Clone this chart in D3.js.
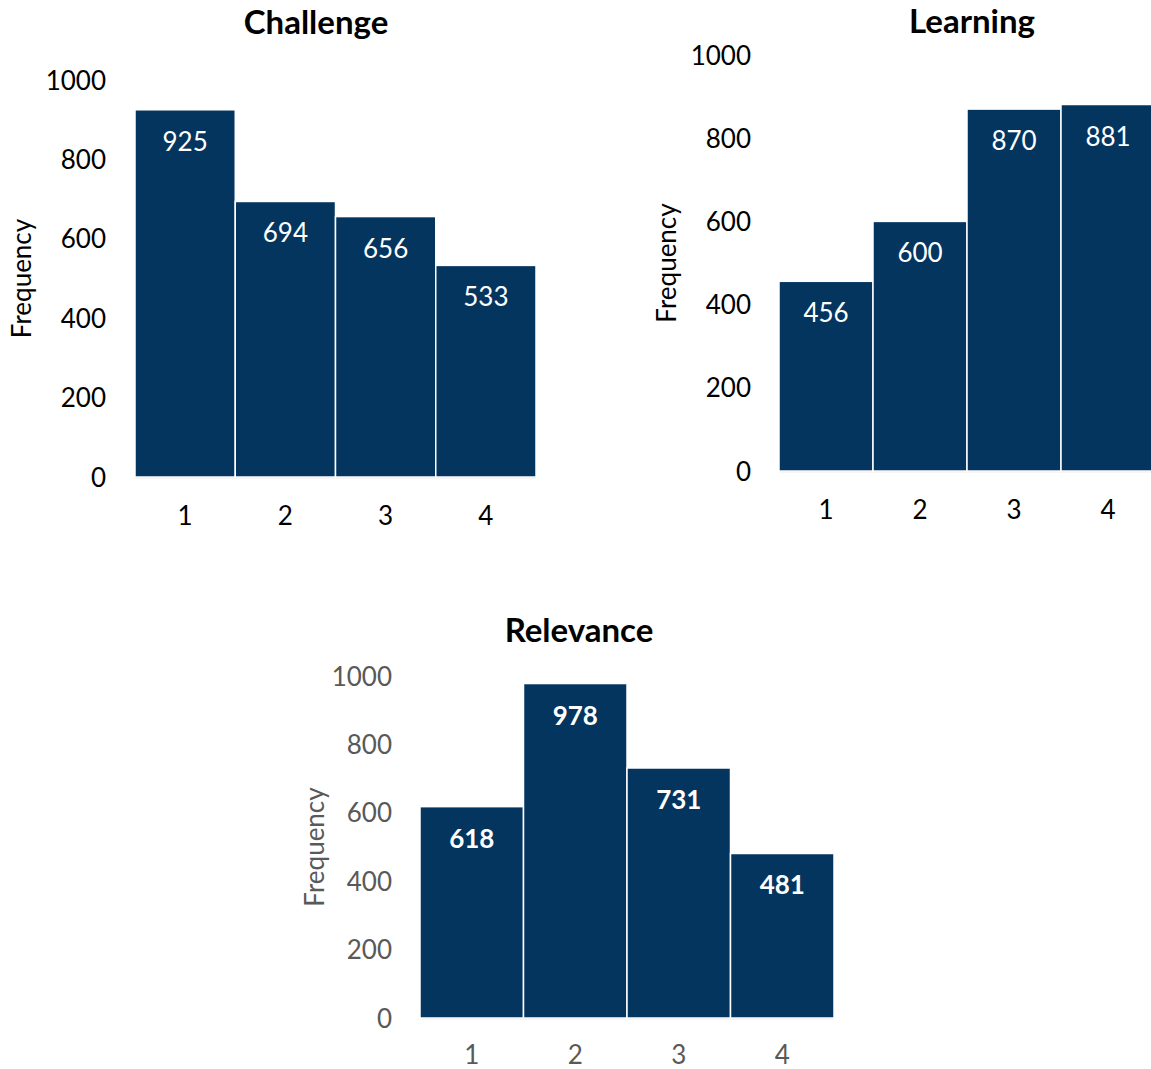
<!DOCTYPE html>
<html>
<head>
<meta charset="utf-8">
<script src="https://cdn.jsdelivr.net/npm/d3@7"></script>
<style>
  html, body { margin: 0; padding: 0; background: #fff; }
  svg { display: block; }
</style>
</head>
<body>
<svg id="chart" width="1151" height="1069"></svg>
<script>
// Response categories shared by all three histograms
const categories = ["1", "2", "3", "4"];
const challengeValues = [925, 694, 656, 533];
const learningValues = [456, 600, 870, 881];
const relevanceValues = [618, 978, 731, 481];
const yTicks = [0, 200, 400, 600, 800, 1000];
const titles = ["Challenge", "Learning", "Relevance"];

const FONT = "Lato, 'Open Sans', sans-serif";
const BAR = "#03355f";

const svg = d3.select("#chart");

// Panel layouts (plot area in pixels)
const panels = [
  { title: titles[0], values: challengeValues, x0: 135, x1: 536, yTop: 80, yBot: 477,
    titleX: 316, titleY: 34, yLabelX: 31, tickX: 106, xLabY: 525,
    textColor: "#000", boldValues: false },
  { title: titles[1], values: learningValues, x0: 779, x1: 1155, yTop: 55, yBot: 471,
    titleX: 972, titleY: 33, yLabelX: 676, tickX: 751, xLabY: 519,
    textColor: "#000", boldValues: false },
  { title: titles[2], values: relevanceValues, x0: 420, x1: 834, yTop: 676, yBot: 1018,
    titleX: 579, titleY: 642, yLabelX: 324, tickX: 392, xLabY: 1064,
    textColor: "#595959", boldValues: true }
];

panels.forEach(p => {
  const g = svg.append("g");

  const x = d3.scaleBand().domain(categories).range([p.x0, p.x1]).padding(0);
  const y = d3.scaleLinear().domain([0, 1000]).range([p.yBot, p.yTop]);

  // Title
  g.append("text")
    .attr("x", p.titleX).attr("y", p.titleY)
    .attr("text-anchor", "middle")
    .attr("font-family", FONT).attr("font-weight", "bold")
    .attr("font-size", 33).attr("fill", "#000")
    .text(p.title);

  // Baseline
  g.append("line")
    .attr("x1", p.x0).attr("x2", p.x1)
    .attr("y1", p.yBot + 0.5).attr("y2", p.yBot + 0.5)
    .attr("stroke", "#d9d9d9").attr("stroke-width", 1.5);

  // Bars
  g.selectAll("rect.bar")
    .data(p.values)
    .join("rect")
    .attr("class", "bar")
    .attr("x", (d, i) => x(categories[i]))
    .attr("width", x.bandwidth())
    .attr("y", d => y(d))
    .attr("height", d => y(0) - y(d))
    .attr("fill", BAR)
    .attr("stroke", "#fff")
    .attr("stroke-width", 1.5);

  // Value labels inside bars
  g.selectAll("text.val")
    .data(p.values)
    .join("text")
    .attr("class", "val")
    .attr("x", (d, i) => x(categories[i]) + x.bandwidth() / 2)
    .attr("y", d => y(d) + 41)
    .attr("text-anchor", "middle")
    .attr("font-family", FONT)
    .attr("font-weight", p.boldValues ? "bold" : "normal")
    .attr("font-size", 26)
    .attr("fill", "#fff")
    .text(d => d);

  // Y axis tick labels (no axis line, no tick marks)
  const yAxis = d3.axisLeft(y).tickValues(yTicks).tickFormat(d3.format("d"))
    .tickSize(0).tickPadding(0);
  const ya = g.append("g")
    .attr("transform", `translate(${p.tickX},0)`)
    .call(yAxis);
  ya.select(".domain").remove();
  ya.selectAll("text")
    .attr("font-family", FONT).attr("font-size", 26)
    .attr("fill", p.textColor)
    .attr("dy", "0.35em");

  // X axis category labels
  const xAxis = d3.axisBottom(x).tickSize(0).tickPadding(0);
  const xa = g.append("g")
    .attr("transform", `translate(0,${p.xLabY})`)
    .call(xAxis);
  xa.select(".domain").remove();
  xa.selectAll("text")
    .attr("font-family", FONT).attr("font-size", 26)
    .attr("fill", p.textColor)
    .attr("dy", "0");

  // Y axis title
  g.append("text")
    .attr("transform", `translate(${p.yLabelX},${(p.yTop + p.yBot) / 2}) rotate(-90)`)
    .attr("text-anchor", "middle")
    .attr("font-family", FONT).attr("font-size", 26)
    .attr("fill", p.textColor)
    .text("Frequency");
});
</script>
</body>
</html>
